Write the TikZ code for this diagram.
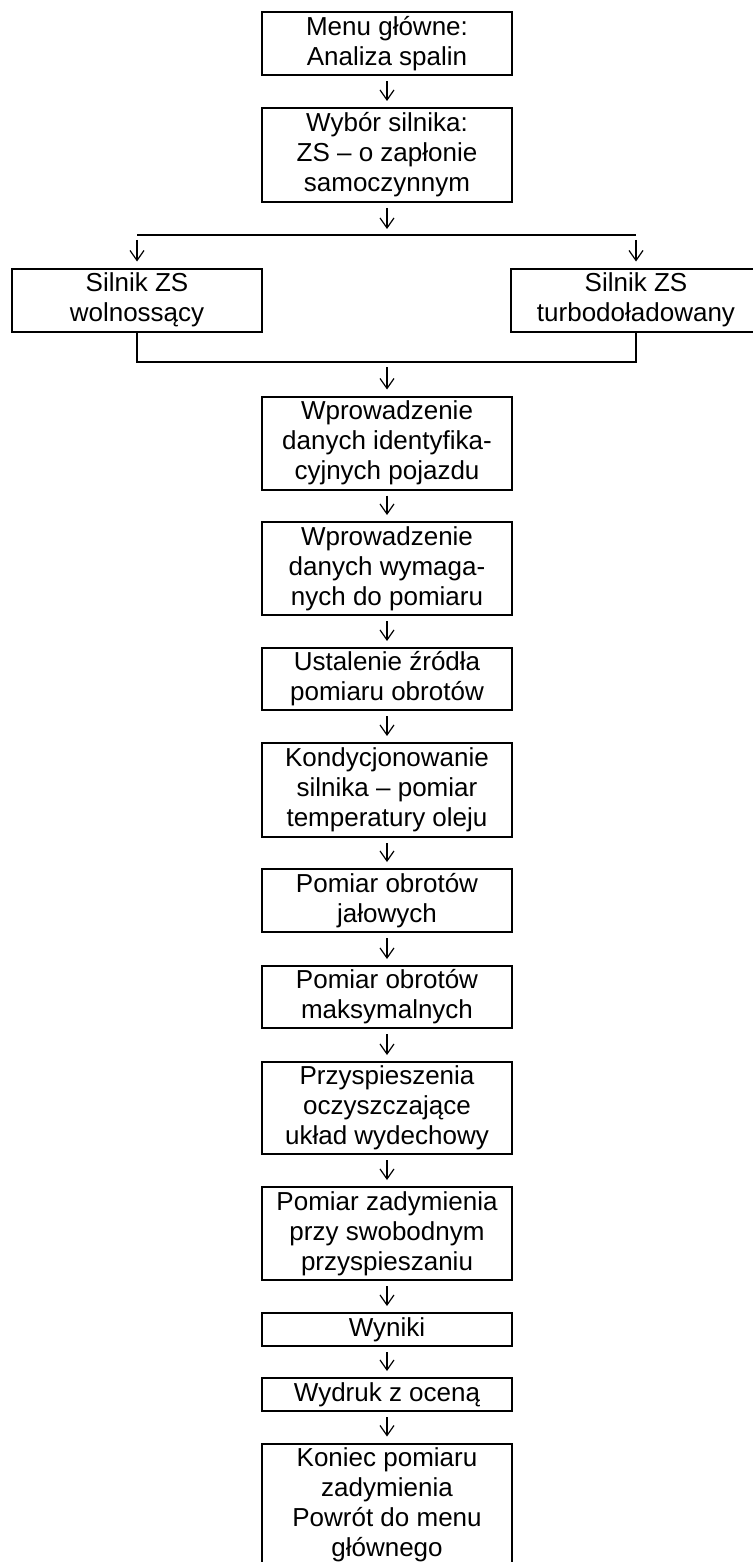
\documentclass[tikz,border=0pt]{standalone}
\usepackage{fontspec}
\setmainfont{Liberation Sans}
\usepackage{tikz}
\usetikzlibrary{arrows.meta}

\begin{document}
\begin{tikzpicture}[x=0.5pt, y=-0.5pt,
            every node/.style={font=\fontsize{13pt}{15pt}\selectfont}]
            \tikzstyle{boxStyle} = [rectangle,draw=black,line width=1pt,fill=white,
                                    minimum width=125pt,inner xsep=0pt,inner ysep=0pt,align=center]
            \tikzstyle{arrowEdge} = [draw=black, line width=0.6pt,
                                    -{Straight Barb[length=5pt,width=7pt]},
                                    shorten <=2.5pt, shorten >=3pt]
            \tikzstyle{lineEdge} = [draw=black, line width=1pt]
            \useasboundingbox (0,0) rectangle (752,1562);
            \node[boxStyle, minimum height=31.5pt] (1) at (387,44)   {Menu główne:\\Analiza spalin};
            \node[boxStyle, minimum height=47pt]   (2) at (387,155)  {Wybór silnika:\\ZS – o zapłonie\\samoczynnym};
            \node[boxStyle, minimum height=31.5pt] (L) at (137,300)  {Silnik ZS\\wolnossący};
            \node[boxStyle, minimum height=31.5pt] (R) at (636,300)  {Silnik ZS\\turbodoładowany};
            \node[boxStyle, minimum height=46.5pt] (3) at (387,443)  {Wprowadzenie\\danych identyfika-\\cyjnych pojazdu};
            \node[boxStyle, minimum height=46.5pt] (4) at (387,568.5) {Wprowadzenie\\danych wymaga-\\nych do pomiaru};
            \node[boxStyle, minimum height=31pt]   (5) at (387,679)  {Ustalenie źródła\\pomiaru obrotów};
            \node[boxStyle, minimum height=47pt]   (6) at (387,790)  {Kondycjonowanie\\silnika – pomiar\\temperatury oleju};
            \node[boxStyle, minimum height=31.5pt] (7) at (387,900.5) {Pomiar obrotów\\jałowych};
            \node[boxStyle, minimum height=31pt]   (8) at (387,997)  {Pomiar obrotów\\maksymalnych};
            \node[boxStyle, minimum height=46pt]   (9) at (387,1108) {Przyspieszenia\\oczyszczające\\układ wydechowy};
            \node[boxStyle, minimum height=46.5pt] (10) at (387,1233.5) {Pomiar zadymienia\\przy swobodnym\\przyspieszaniu};
            \node[boxStyle, minimum height=16.5pt] (11) at (387,1329.5) {Wyniki};
            \node[boxStyle, minimum height=16.5pt] (12) at (387,1394.5) {Wydruk z oceną};
            \node[boxStyle, minimum height=61.5pt] (13) at (387,1505) {Koniec pomiaru\\zadymienia\\Powrót do menu\\głównego};
            \coordinate (s1) at (137,235);
            \coordinate (s2) at (636,235);
            \coordinate (m1) at (137,362);
            \coordinate (m2) at (636,362);
            \path[lineEdge] (s1) -- (s2);
            \path[lineEdge] (L) -- (m1) -- (m2) -- (R);
            \path[arrowEdge] (2) -- (2 |- s1);
            \path[arrowEdge] (s1) -- (L);
            \path[arrowEdge] (s2) -- (R);
            \path[arrowEdge] (3 |- m1) -- (3);
            \foreach \from/\to in {1/2,3/4,4/5,5/6,6/7,7/8,8/9,9/10,
                                10/11,11/12,12/13}
                \path[arrowEdge] (\from) edge (\to);
        \end{tikzpicture}
\end{document}
